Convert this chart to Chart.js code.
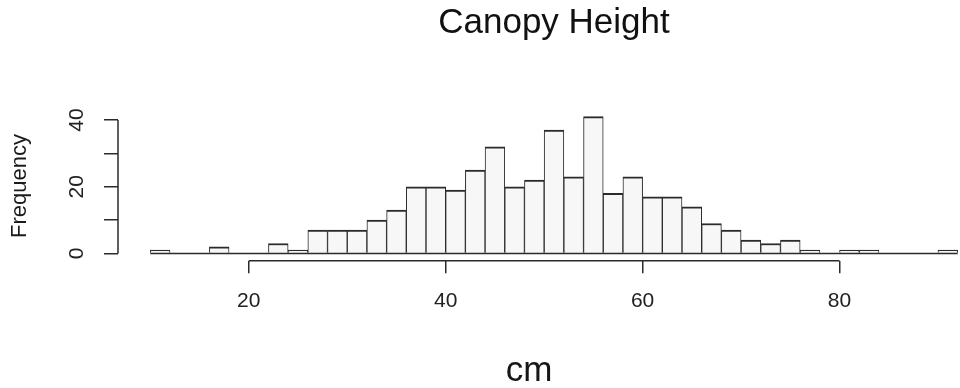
<!DOCTYPE html>
<html>
<head>
<meta charset="utf-8">
<script src="https://cdn.jsdelivr.net/npm/chart.js@4.4.1/dist/chart.umd.min.js"></script>
<style>
  html, body { margin: 0; padding: 0; background: #fff; overflow: hidden; }
  /* plot region runs past the right edge, like the cropped source */
  #wrap { position: relative; width: 1000px; height: 388px; }
</style>
</head>
<body>
<div id="wrap"><canvas id="hist"></canvas></div>
<script>
// histogram bins, 2 cm wide, keyed by left edge
const binStarts = [10, 12, 14, 16, 18, 20, 22, 24, 26, 28, 30, 32, 34, 36, 38, 40, 42, 44, 46, 48,
                   50, 52, 54, 56, 58, 60, 62, 64, 66, 68, 70, 72, 74, 76, 78, 80, 82, 84, 86, 88, 90];
const binWidth = 2;
const counts = [1, 0, 0, 2, 0, 0, 3, 1, 7, 7, 7, 10, 13, 20, 20, 19, 25, 32, 20, 22,
                37, 23, 41, 18, 23, 17, 17, 14, 9, 7, 4, 3, 4, 1, 0, 1, 1, 0, 0, 0, 1];
const xTicks = [20, 40, 60, 80];
const yTicks = [0, 10, 20, 30, 40];
const yLabelled = [0, 20, 40];

const FONT = '"Liberation Sans", Arial, Helvetica, sans-serif';
const INK = "#2b2b2b";

// R draws its axes only between the first and last tick, and zero bins
// still leave a baseline
const rAxes = {
    id: "rAxes",
    afterDatasetsDraw(chart) {
        const { ctx, chartArea, scales } = chart;
        const x = scales.x, y = scales.y;
        ctx.save();
        ctx.strokeStyle = INK;
        ctx.lineWidth = 1.5;
        ctx.beginPath();
        const y0 = y.getPixelForValue(0);
        ctx.moveTo(x.getPixelForValue(binStarts[0]), y0);
        ctx.lineTo(x.getPixelForValue(binStarts[binStarts.length - 1] + binWidth), y0);
        ctx.moveTo(x.getPixelForValue(xTicks[0]), chartArea.bottom);
        ctx.lineTo(x.getPixelForValue(xTicks[xTicks.length - 1]), chartArea.bottom);
        ctx.moveTo(chartArea.left, y.getPixelForValue(yTicks[0]));
        ctx.lineTo(chartArea.left, y.getPixelForValue(yTicks[yTicks.length - 1]));
        ctx.stroke();

        // x label sits a little left of the plot centre in the source
        ctx.fillStyle = "#161616";
        ctx.font = "35px " + FONT;
        ctx.textAlign = "center";
        ctx.textBaseline = "alphabetic";
        ctx.fillText("cm", 529, 380.7);
        ctx.restore();
    },
};

new Chart(document.getElementById("hist"), {
    type: "bar",
    data: {
        datasets: [
            {
                label: "Frequency",
                data: binStarts.map((b, i) => ({ x: b + binWidth / 2, y: counts[i] })),
                backgroundColor: "#f7f7f7",
                borderColor: INK,
                borderWidth: { top: 2, right: 1, bottom: 0, left: 1 },
                borderSkipped: false,
                barPercentage: 1,
                categoryPercentage: 1,
            },
        ],
    },
    options: {
        responsive: true,
        maintainAspectRatio: false,
        animation: false,
        layout: { padding: { left: 0, right: 10, top: 0, bottom: 0 } },
        plugins: {
            legend: { display: false },
            tooltip: { enabled: false },
            title: {
                display: true,
                text: "Canopy Height",
                fullSize: false,
                color: "#111",
                font: { family: FONT, size: 35, weight: "normal" },
                padding: { top: 2, bottom: 67.2 },
            },
        },
        scales: {
            x: {
                type: "linear",
                offset: false,
                bounds: "data",
                min: 6.72,
                max: 95.28,
                afterBuildTicks: (s) => { s.ticks = xTicks.map((v) => ({ value: v })); },
                afterFit: (s) => { s.height = 127.3; },
                border: { display: false },
                grid: { offset: false, drawOnChartArea: false, color: INK, lineWidth: 1.5, tickLength: 12.6 },
                ticks: {
                    color: "#222",
                    font: { family: FONT, size: 21 },
                    padding: 15.8,
                    maxRotation: 0,
                },
            },
            y: {
                bounds: "data",
                min: -2.16,
                max: 42.64,
                afterBuildTicks: (s) => { s.ticks = yTicks.map((v) => ({ value: v })); },
                afterFit: (s) => { s.width = 118; },
                border: { display: false },
                grid: { drawOnChartArea: false, color: INK, lineWidth: 1.5, tickLength: 14 },
                ticks: {
                    color: "#222",
                    font: { family: FONT, size: 21 },
                    padding: 14.8,
                    minRotation: 90,
                    maxRotation: 90,
                    crossAlign: "center",
                    callback: (v) => (yLabelled.includes(v) ? String(v) : ""),
                },
                title: {
                    display: true,
                    text: "Frequency",
                    color: "#1a1a1a",
                    font: { family: FONT, size: 22 },
                    padding: { top: 7, bottom: 0 },
                },
            },
        },
    },
    plugins: [rAxes],
});
</script>
</body>
</html>
